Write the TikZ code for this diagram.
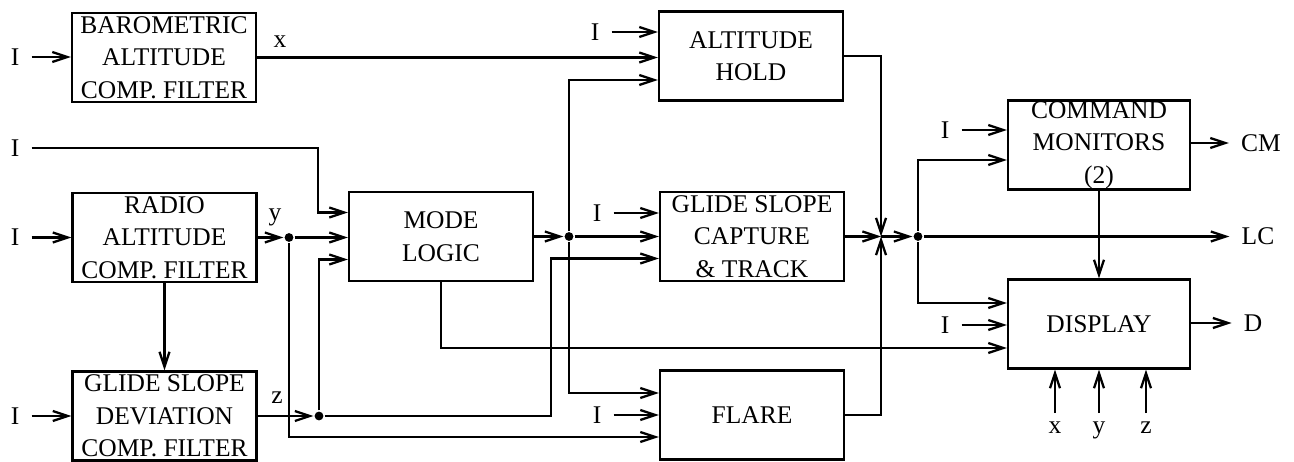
\documentclass[tikz,border=0pt]{standalone}
\usepackage{fontspec}
\setmainfont{Liberation Serif}
\usetikzlibrary{arrows.meta,calc}

\begin{document}
\begin{tikzpicture}[x=0.02cm,y=-0.02cm,line width=1.3pt,
  font=\fontsize{14.5}{18.5}\selectfont,
  box/.style={draw,minimum width=3.68cm,minimum height=1.78cm,inner sep=0pt,align=center},
  sig/.style={inner sep=0pt,outer xsep=7pt,outer ysep=5pt},
  dot/.style={circle,fill,inner sep=0pt,minimum size=5pt},
  arr/.style={-{Straight Barb[length=3mm,width=2mm]}}]
\useasboundingbox (0,0) rectangle (1294,462);

% blocks
\node[box] (baro)  at (164,57.5)  {BAROMETRIC\\ALTITUDE\\COMP. FILTER};
\node[box] (radio) at (164.5,237.5) {RADIO\\ALTITUDE\\COMP. FILTER};
\node[box] (gsdev) at (164.5,416) {GLIDE SLOPE\\DEVIATION\\COMP. FILTER};
\node[box] (mode)  at (441,236.5) {MODE\\LOGIC};
\node[box] (alt)   at (751,56)    {ALTITUDE\\HOLD};
\node[box] (gscap) at (752,236.5) {GLIDE SLOPE\\CAPTURE\\\& TRACK};
\node[box] (flare) at (752,415)   {FLARE};
\node[box,minimum width=3.64cm] (cmd)  at (1099,145) {COMMAND\\MONITORS\\(2)};
\node[box,minimum width=3.64cm] (disp) at (1099,324) {DISPLAY};

% inputs I
\foreach \n/\x/\y in {ib/15/57,ir/15/237.5,ig/15/416,im/15/148,ia/595/32,ic/597/213,
                      if/597/415,iq/945/130,id/945/325}
  \node[sig] (\n) at (\x,\y) {I};
\foreach \n/\b in {ib/baro,ir/radio,ig/gsdev,ia/alt,ic/gscap,if/flare,iq/cmd,id/disp}
  \draw[arr] (\n) -- (\n -| \b.west);
\draw[arr] (im) -| ($(mode.west)+(-30,-24)$) -- ($(mode.west)+(0,-24)$);

% filter outputs
\node (xl) at (280,42) {x};
\node (yl) at (275,217) {y};
\node (zl) at (277,398) {z};
\draw[arr] (baro) -- (baro -| alt.west);
\draw[arr] (radio) -- (gsdev);
\node[dot] (ydot) at (289,237.5) {};
\draw[arr] (radio) -- (ydot);
\draw[arr] (ydot) -- (ydot -| mode.west);
\draw[arr] (ydot) |- ($(flare.west)+(0,22)$);
\node[dot] (zdot) at (319,416) {};
\draw[arr] (gsdev) -- (zdot);
\draw[arr] (zdot) |- ($(mode.west)+(0,23)$);
\draw[arr] (zdot) -| ($(gscap.west)+(-108,22)$) -- ($(gscap.west)+(0,22)$);

% mode logic outputs
\node[dot] (mdot) at (569,236.5) {};
\draw[arr] (mode) -- (mdot);
\draw[arr] (mdot) -- (mdot -| gscap.west);
\draw[arr] (mdot) |- ($(alt.west)+(0,24)$);
\draw[arr] (mdot) |- ($(flare.west)+(0,-22)$);
\draw[arr] (mode.south) |- ($(disp.west)+(0,24)$);

% summing junction and bus
\coordinate (sum) at (881,236.5);
\draw[arr] (alt) -| (sum);
\draw[arr] (gscap) -- (sum);
\draw[arr] (flare) -| (sum);
\node[dot] (bus) at (918,236.5) {};
\draw[arr] (sum) -- (bus);
\draw[arr] (bus) |- ($(cmd.west)+(0,15)$);
\draw[arr] (bus) |- ($(disp.west)+(0,-21)$);
\draw[arr] (cmd) -- (disp);

% outputs
\node[sig] (cm) at (1261,143)   {CM};
\node[sig] (lc) at (1258,236.5) {LC};
\node[sig] (dl) at (1253,323)   {D};
\draw[arr] (cm -| cmd.east) -- (cm);
\draw[arr] (bus) -- (lc);
\draw[arr] (dl -| disp.east) -- (dl);
\foreach \s/\x in {x/1055,y/1099,z/1146} {
  \node[sig,anchor=north] (o\s) at (\x,413) {\s};
  \draw[arr] (o\s) -- (o\s |- disp.south);
}
\end{tikzpicture}
\end{document}
